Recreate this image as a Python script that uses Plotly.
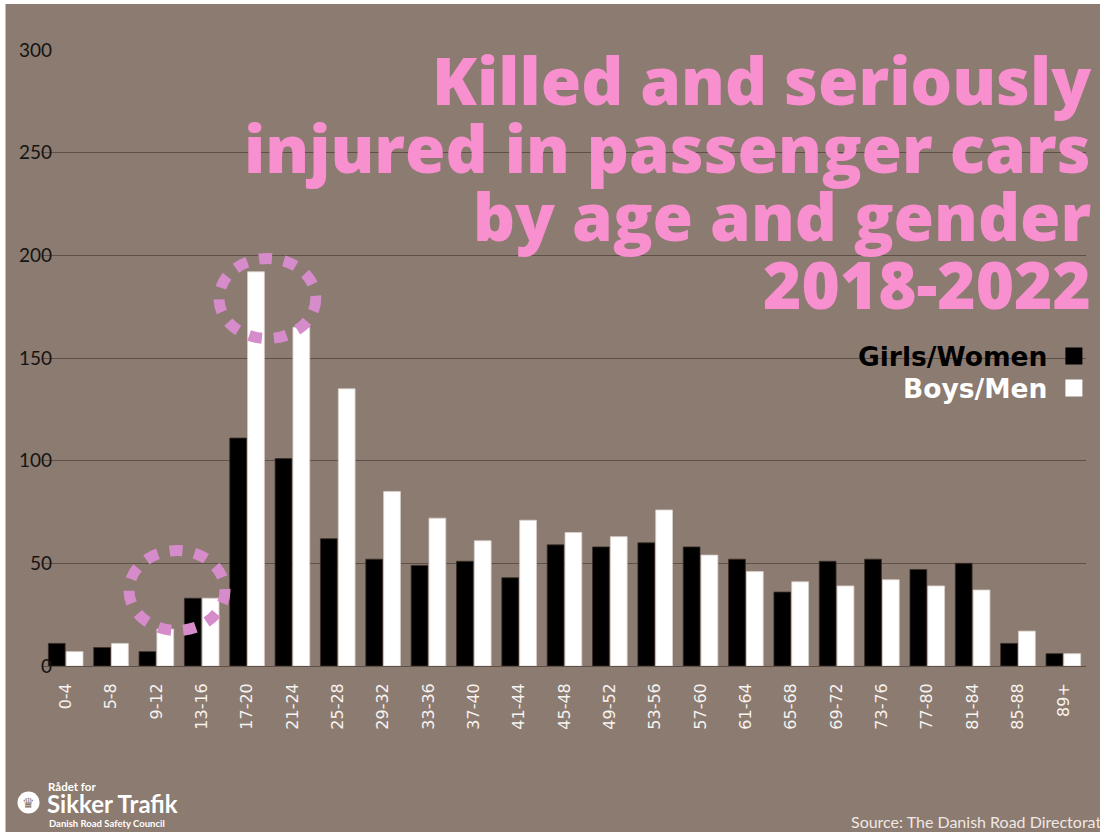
import plotly.graph_objects as go

age_groups = ["0-4", "5-8", "9-12", "13-16", "17-20", "21-24", "25-28", "29-32",
              "33-36", "37-40", "41-44", "45-48", "49-52", "53-56", "57-60", "61-64",
              "65-68", "69-72", "73-76", "77-80", "81-84", "85-88", "89+"]
girls_women = [11, 9, 7, 33, 111, 101, 62, 52, 49, 51, 43, 59, 58, 60, 58, 52,
               36, 51, 52, 47, 50, 11, 6]
boys_men = [7, 11, 18, 33, 192, 165, 135, 85, 72, 61, 71, 65, 63, 76, 54, 46,
            41, 39, 42, 39, 37, 17, 6]
y_ticks = [0, 50, 100, 150, 200, 250, 300]

title_lines = ["Killed and seriously", "injured in passenger cars",
               "by age and gender", "2018-2022"]

BG = "#8C7B70"
GRID = "#5E4F47"
PINK = "#F88FCF"
CIRCLE = "#D68BCB"

W, H = 1100, 832
ML, MR, MT, MB = 42.5, 14.4, 50, 166
PW = W - ML - MR
PH = H - MT - MB


def px(xp):
    return (xp - ML) / PW


def py(yp):
    return (H - MB - yp) / PH


fig = go.Figure()
fig.add_trace(go.Bar(x=age_groups, y=girls_women, name="Girls/Women",
                     marker=dict(color="#000000", line=dict(color="#3a2e29", width=0.8))))
fig.add_trace(go.Bar(x=age_groups, y=boys_men, name="Boys/Men",
                     marker=dict(color="#FFFFFF", line=dict(color="#d8cfca", width=0.8))))

shapes = []
# page background with thin white strips at top/left
shapes.append(dict(type="rect", xref="paper", yref="paper", x0=px(5), x1=px(1101),
                   y0=py(4), y1=py(833), fillcolor=BG, line=dict(width=0), layer="below"))
# dashed highlight ellipses
for cx, cy, rx, ry in [(266.9, 298.5, 48.4, 40.0), (176.5, 590.5, 48.0, 40.0)]:
    shapes.append(dict(type="circle", xref="paper", yref="paper",
                       x0=px(cx - rx), x1=px(cx + rx), y0=py(cy + ry), y1=py(cy - ry),
                       line=dict(color=CIRCLE, width=11, dash="13px,12px")))
# legend squares
shapes.append(dict(type="rect", xref="paper", yref="paper", x0=px(1065), x1=px(1082),
                   y0=py(364.5), y1=py(347.5), fillcolor="#000000", line=dict(width=0)))
shapes.append(dict(type="rect", xref="paper", yref="paper", x0=px(1065), x1=px(1082),
                   y0=py(396.5), y1=py(379.5), fillcolor="#FFFFFF", line=dict(width=0)))
# logo circle
shapes.append(dict(type="circle", xref="paper", yref="paper", x0=px(17), x1=px(39),
                   y0=py(813.5), y1=py(791.5), fillcolor="#FFFFFF", line=dict(width=0)))

annotations = []
title_y = [79.5, 147.5, 215.5, 283.5]
for txt, yy in zip(title_lines, title_y):
    annotations.append(dict(text=txt, xref="paper", yref="paper", x=px(1093), y=py(yy),
                            xanchor="right", yanchor="middle", showarrow=False,
                            font=dict(family="Open Sans", size=65.5, color=PINK, weight=800)))
annotations.append(dict(text="Girls/Women", xref="paper", yref="paper", x=px(1049), y=py(356.5),
                        xanchor="right", yanchor="middle", showarrow=False,
                        font=dict(family="DejaVu Sans", size=26.5, color="#000000", weight="bold")))
annotations.append(dict(text="Boys/Men", xref="paper", yref="paper", x=px(1049), y=py(388.5),
                        xanchor="right", yanchor="middle", showarrow=False,
                        font=dict(family="DejaVu Sans", size=26.5, color="#FFFFFF", weight="bold")))
annotations.append(dict(text="Source: The Danish Road Directorate", xref="paper", yref="paper",
                        x=px(849), y=py(821), xanchor="left", yanchor="middle", showarrow=False,
                        font=dict(family="Lato", size=16, color="#EFE8E4")))
# logo texts
annotations.append(dict(text="♛", xref="paper", yref="paper", x=px(28), y=py(802.5),
                        xanchor="center", yanchor="middle", showarrow=False,
                        font=dict(family="DejaVu Sans", size=14, color=BG)))
annotations.append(dict(text="Rådet for", xref="paper", yref="paper", x=px(46), y=py(786),
                        xanchor="left", yanchor="middle", showarrow=False,
                        font=dict(family="Lato", size=11.5, color="#FFFFFF", weight="bold")))
annotations.append(dict(text="Sikker Trafik", xref="paper", yref="paper", x=px(45), y=py(803),
                        xanchor="left", yanchor="middle", showarrow=False,
                        font=dict(family="Lato", size=24, color="#FFFFFF", weight="bold")))
annotations.append(dict(text="Danish Road Safety Council", xref="paper", yref="paper", x=px(47),
                        y=py(823), xanchor="left", yanchor="middle", showarrow=False,
                        font=dict(family="Lato", size=9.5, color="#FFFFFF", weight="bold")))

fig.update_layout(
    width=W, height=H,
    margin=dict(l=ML, r=MR, t=MT, b=MB, pad=0),
    paper_bgcolor="#FFFFFF",
    plot_bgcolor="rgba(0,0,0,0)",
    barmode="group", bargap=0.213, bargroupgap=0.06,
    showlegend=False,
    shapes=shapes,
    annotations=annotations,
    xaxis=dict(type="category", range=[-0.5, 22.5], showgrid=False, showline=False,
               ticks="", tickangle=-90, ticklabelstandoff=13,
               tickfont=dict(family="DejaVu Sans", size=16, color="#F7F3F1"),
               fixedrange=True),
    yaxis=dict(range=[0, 300], tickvals=y_ticks, showgrid=True, gridcolor=GRID, gridwidth=1.3,
               zeroline=True, zerolinecolor=GRID, zerolinewidth=1.3, showline=False,
               ticks="", ticklabelstandoff=-10,
               tickfont=dict(family="Lato", size=19, color="#141414"),
               fixedrange=True),
)

fig.write_html(
    "out.html",
    config={"displayModeBar": False},
    post_script="document.body.style.margin='0';document.body.style.overflow='hidden';"
                "document.documentElement.style.overflow='hidden';",
)
